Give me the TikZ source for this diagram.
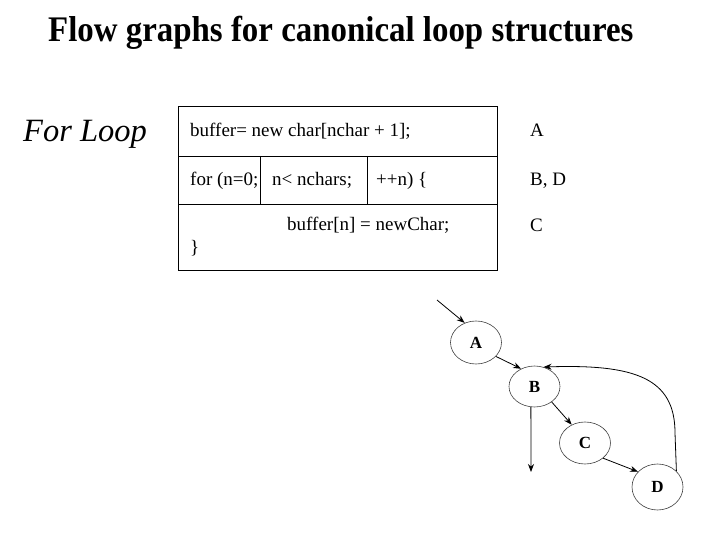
\documentclass[tikz,border=0pt]{standalone}
\usepackage{fontspec}
\setmainfont{Liberation Serif}
\usetikzlibrary{shapes.geometric,arrows.meta}
\tikzset{
  code/.style={anchor=base west,inner sep=0pt,font=\fontsize{19}{22}\selectfont},
  lbl/.style={anchor=base west,inner sep=0pt,font=\fontsize{19}{22}\selectfont},
  st/.style={draw=black!75,line width=0.6pt,ellipse,minimum width=51pt,minimum height=43pt,inner sep=0pt,font=\fontsize{17}{19}\selectfont\bfseries},
  fl/.style={line width=0.8pt,-{Stealth[length=8pt,width=6pt]}},
  box/.style={line width=0.8pt}
}
\begin{document}
\begin{tikzpicture}[x=1pt,y=-1pt]
\useasboundingbox (0,0) rectangle (720,540);
\node[anchor=base west,inner sep=0pt,font=\fontsize{36}{40}\selectfont\bfseries] (title) at (48,42) {\scalebox{0.914}[1]{Flow graphs for canonical loop structures}};
\node[anchor=base west,inner sep=0pt,font=\fontsize{32.5}{36}\selectfont\itshape] (fl) at (23,142) {For Loop};
% code box
\draw[box] (178,106) rectangle (497,270);
\draw[box] (178,156) -- (497,156);
\draw[box] (178,204) -- (497,204);
\draw[box] (260,156) -- (260,204);
\draw[box] (367,156) -- (367,204);
\node[code] (c1) at (190,137) {buffer= new char[nchar + 1];};
\node[code] (c2) at (190,186) {for (n=0;};
\node[code] (c3) at (272,186) {n< nchars;};
\node[code] (c4) at (376,186) {++n) \{};
\node[code] (c5) at (287,230) {buffer[n] = newChar;};
\node[code] (c6) at (190,254) {\}};
\node[lbl] (la) at (530,137) {A};
\node[lbl] (lb) at (530,186) {B, D};
\node[lbl] (lc) at (530,232) {C};
% graph
\node[st] (A) at (476,342.5) {A};
\node[st,minimum height=41pt] (B) at (534.5,386.5) {B};
\node[st,minimum height=42pt] (C) at (585,443) {C};
\node[st,minimum height=46pt] (D) at (657.5,487) {D};
\coordinate (in) at (437,300);
\coordinate (out) at (531,472);
\draw[fl] (in) -- (A.120);
\draw[fl] (A.-35) -- (B.127);
\draw[fl] (B.-42) -- (C.126);
\draw[fl] (C.-40) -- (D.142);
\draw[fl] (B.-100) -- (out);
\draw[fl] (D.40) -- (675,433) .. controls (675,378) and (635,364) .. (B.65);
\end{tikzpicture}
\end{document}
